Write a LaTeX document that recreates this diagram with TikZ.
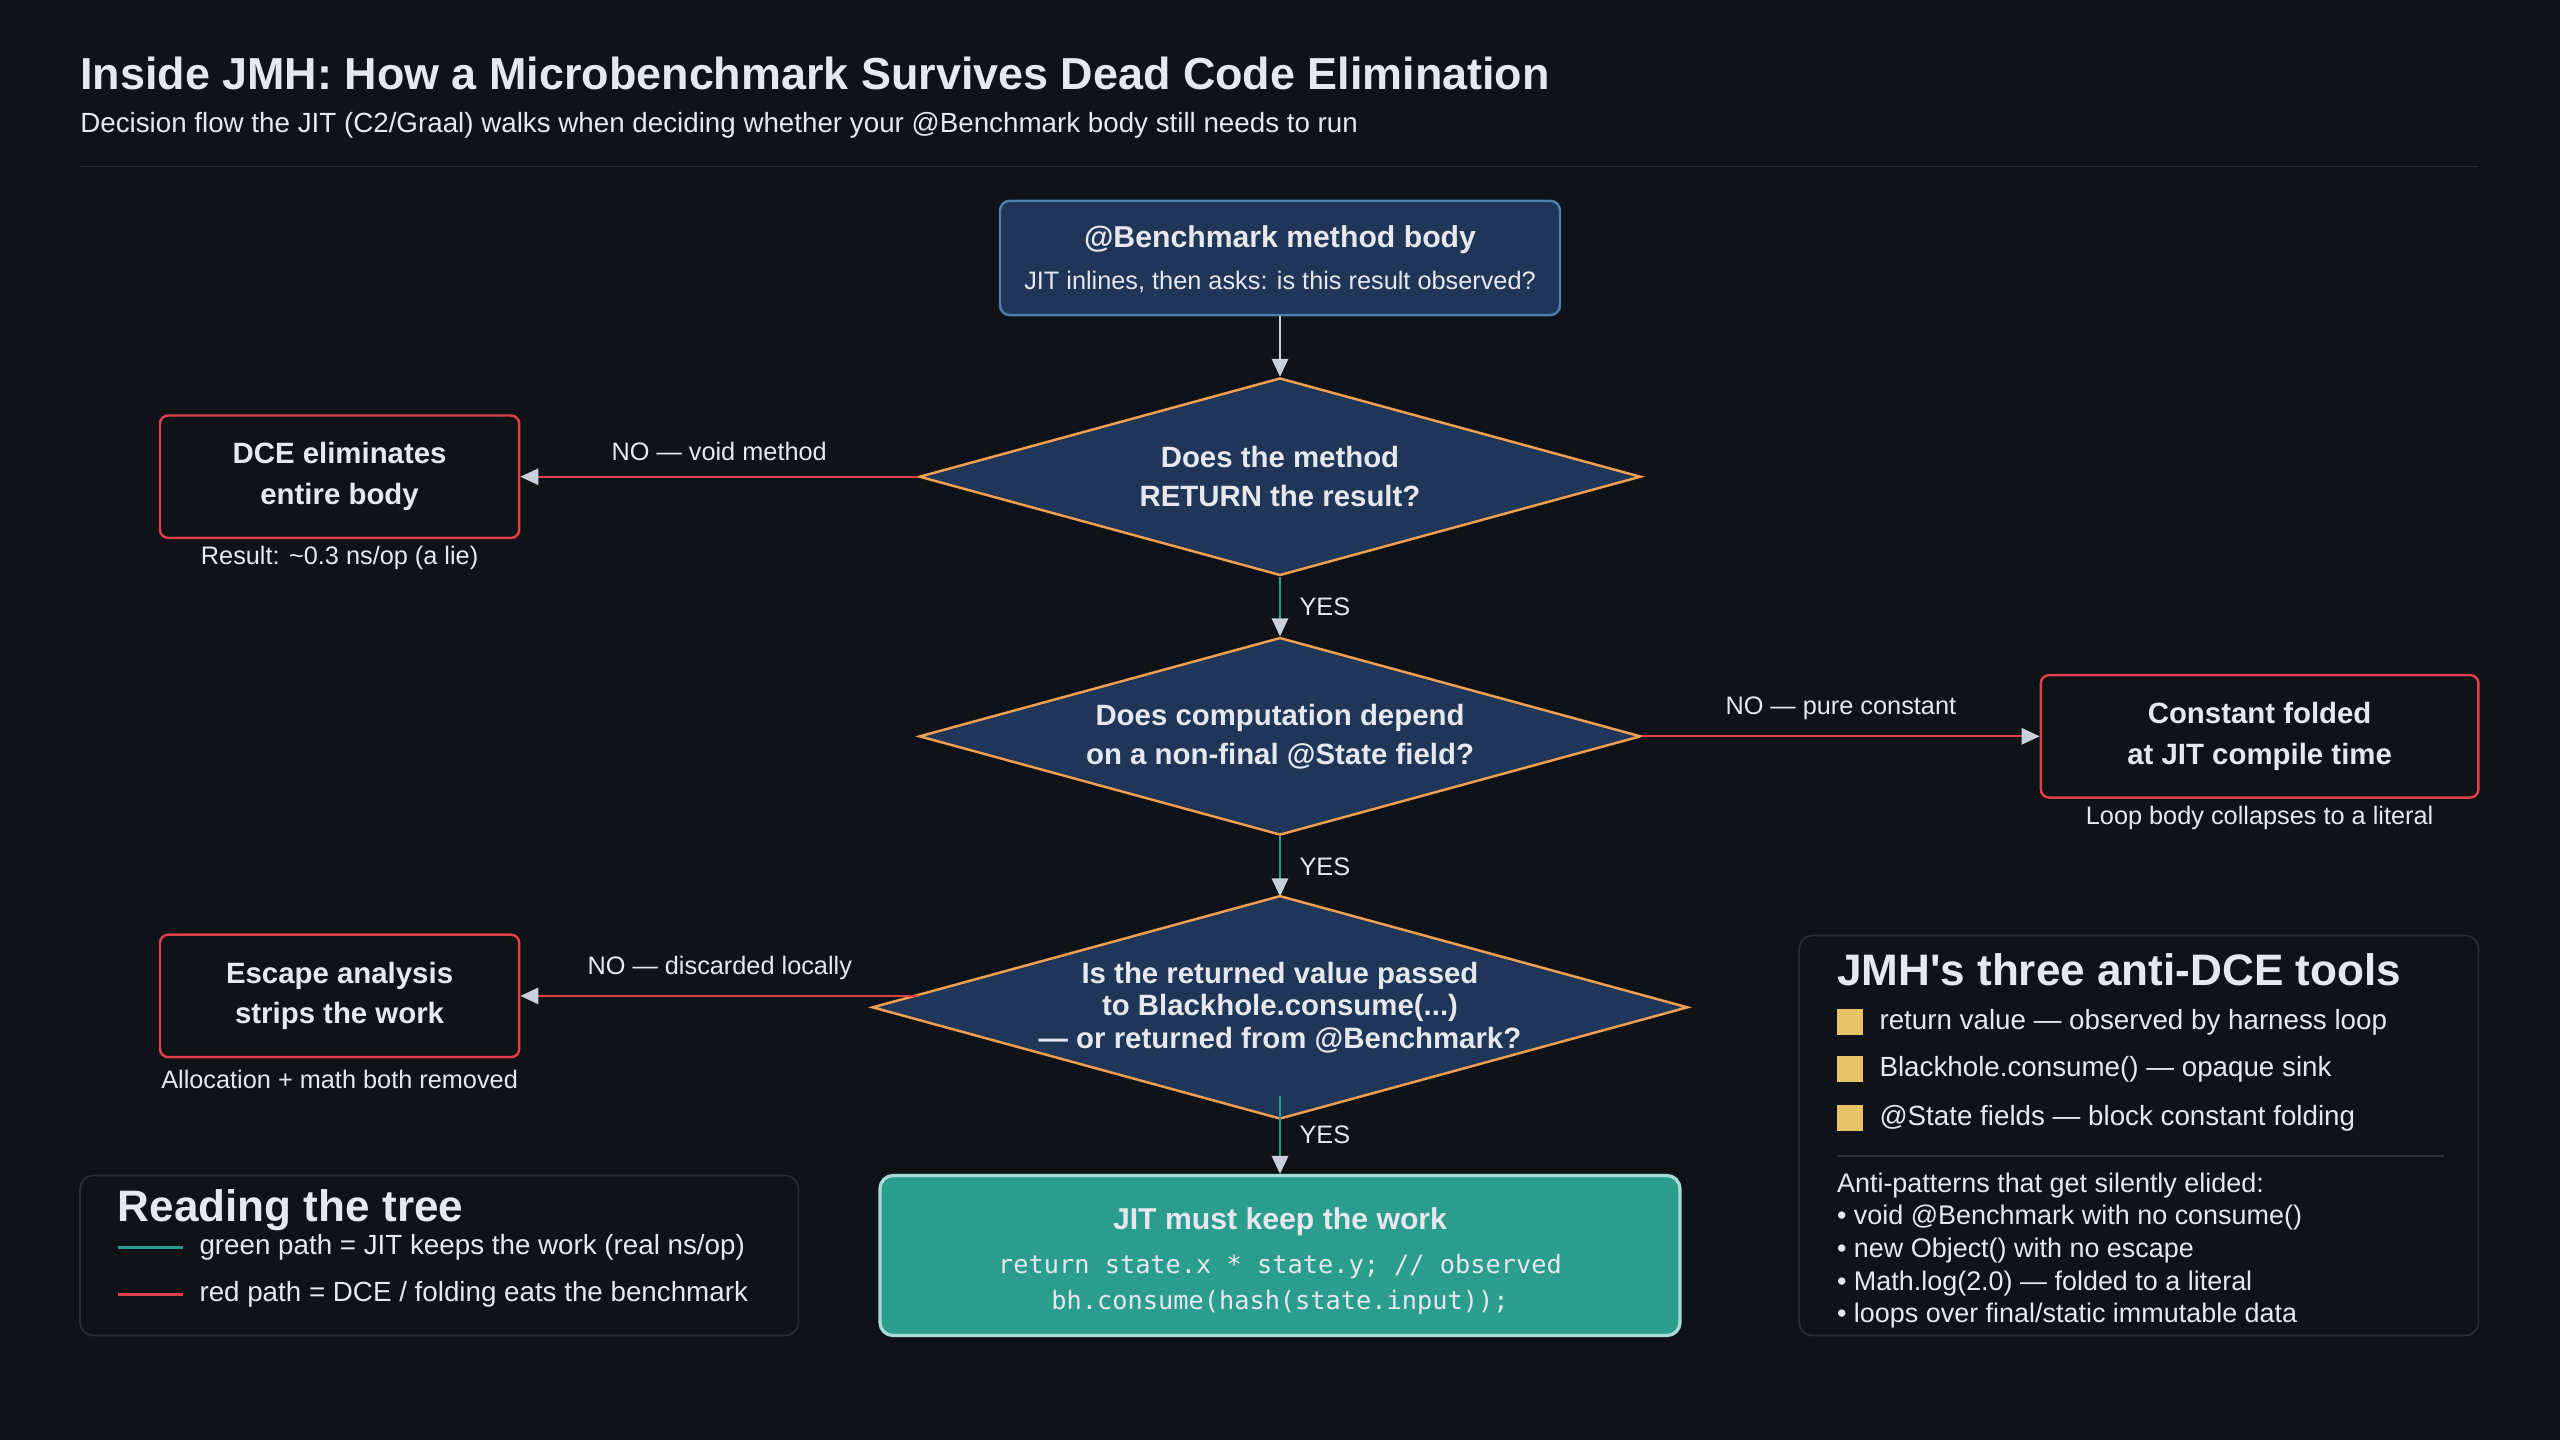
\documentclass[tikz,border=0pt]{standalone}
\usepackage{fontspec}
\setmainfont{Liberation Sans}
\newfontfamily\codefont{DejaVu Sans Mono}
\usetikzlibrary{shapes.geometric,arrows.meta}
\definecolor{bgc}{HTML}{0F1217}
\definecolor{ink}{HTML}{E6E8EE}
\definecolor{navy}{HTML}{1F3658}
\definecolor{navyline}{HTML}{4A80B0}
\definecolor{orng}{HTML}{F0A050}
\definecolor{redl}{HTML}{E0404A}
\definecolor{teal}{HTML}{2A9D8F}
\definecolor{mint}{HTML}{A8DCD9}
\definecolor{gray}{HTML}{C8D0DC}
\definecolor{rule}{HTML}{2A2F36}
\definecolor{gold}{HTML}{E8C468}
\tikzset{
  decision/.style={diamond, aspect=3.65, draw=orng, fill=navy, line width=1.5pt, inner sep=0pt,
    minimum width=442pt, minimum height=121pt, text=ink, align=center,
    font=\fontsize{18}{24}\selectfont\bfseries},
  sink/.style={draw=redl, fill=bgc, line width=1.5pt, rounded corners=5pt,
    minimum width=220pt, minimum height=75pt, text=ink, align=center,
    font=\fontsize{18}{25}\selectfont\bfseries},
  note/.style={text=ink, font=\fontsize{15.5}{18}\selectfont},
  flow/.style={line width=1.3pt, -{Triangle[length=11pt,width=10pt,color=gray]}},
  yes/.style={flow, draw=teal},
  no/.style={flow, draw=redl},
  panel/.style={draw=rule, line width=1pt, rounded corners=8pt}
}
\begin{document}
\begin{tikzpicture}[x=1pt,y=1pt]
  \fill[bgc] (0,0) rectangle (1568,-882);
  \useasboundingbox (0,0) rectangle (1568,-882);

  % heading
  \node[anchor=west, inner sep=0pt, text=ink, font=\fontsize{27.5}{30}\selectfont\bfseries] (title) at (49,-45)
    {Inside JMH: How a Microbenchmark Survives Dead Code Elimination};
  \node[anchor=west, inner sep=0pt, text=ink, font=\fontsize{17}{20}\selectfont] (subtitle) at (49,-77)
    {Decision flow the JIT (C2/Graal) walks when deciding whether your @Benchmark body still needs to run};
  \draw[rule, line width=1pt] (49,-102) -- (1518,-102);

  % flow
  \node[draw=navyline, fill=navy, line width=1.5pt, rounded corners=6pt, minimum width=343pt,
    minimum height=70pt] (body) at (784,-158) {};
  \node[text=ink, font=\fontsize{18.5}{22}\selectfont\bfseries] (bodyt) at (784,-147) {@Benchmark method body};
  \node[text=ink, font=\fontsize{15.5}{18}\selectfont] (bodys) at (784,-173) {JIT inlines, then asks: is this result observed?};

  \node[decision] (ret) at (784,-292) {Does the method\\RETURN the result?};
  \node[decision] (dep) at (784,-451) {Does computation depend\\on a non-final @State field?};
  \node[decision, font=\fontsize{18}{20}\selectfont\bfseries] (pass) at (784,-617)
    {Is the returned value passed\\to Blackhole.consume(...)\\— or returned from @Benchmark?};
  \coordinate (passw) at (563,-610);
  \coordinate (passn) at (784,-549);
  \coordinate (passs) at (784,-671);

  \node[sink] (dce) at (208,-292) {DCE eliminates\\entire body};
  \node[note] (dcec) at (208,-342) {Result: \textasciitilde0.3 ns/op (a lie)};
  \node[sink, minimum width=268pt] (fold) at (1384,-451) {Constant folded\\at JIT compile time};
  \node[note] (foldc) at (1384,-501) {Loop body collapses to a literal};
  \node[sink] (esc) at (208,-610) {Escape analysis\\strips the work};
  \node[note] (escc) at (208,-661) {Allocation + math both removed};

  \node[draw=mint, fill=teal, line width=2pt, rounded corners=8pt, minimum width=490pt,
    minimum height=98pt] (keep) at (784,-769) {};
  \node[text=ink, font=\fontsize{18.5}{22}\selectfont\bfseries] (keept) at (784,-748) {JIT must keep the work};
  \node[text=ink, align=center, font=\codefont\fontsize{15.5}{22}\selectfont] (keepc) at (784,-787)
    {return state.x * state.y; // observed\\bh.consume(hash(state.input));};

  \draw[flow, draw=gray] (body) -- (ret);
  \draw[no] (ret.west) -- node[note, above=6pt] {NO — void method} (dce);
  \draw[yes] (ret.south) -- node[note, right=8pt] {YES} (dep.north);
  \draw[no] (dep.east) -- node[note, above=6pt] {NO — pure constant} (fold);
  \draw[yes] (dep.south) -- node[note, right=8pt] {YES} (passn);
  \draw[no] (passw) -- node[note, above=6pt] {NO — discarded locally} (esc);
  \draw[yes] (passs) -- node[note, right=8pt] {YES} (keep.north);

  % legend
  \draw[panel] (49,-720) rectangle (489,-818);
  \node[anchor=west, inner sep=0pt, text=ink, font=\fontsize{27}{30}\selectfont\bfseries] (legt) at (72,-741) {Reading the tree};
  \coordinate (g1) at (72,-764); \coordinate (g2) at (112,-764);
  \draw[teal, line width=2pt] (g1) -- (g2);
  \node[note, anchor=west, inner sep=0pt, font=\fontsize{17}{20}\selectfont] (legg) at (122,-764) {green path = JIT keeps the work (real ns/op)};
  \coordinate (r1) at (72,-793); \coordinate (r2) at (112,-793);
  \draw[redl, line width=2pt] (r1) -- (r2);
  \node[note, anchor=west, inner sep=0pt, font=\fontsize{17}{20}\selectfont] (legr) at (122,-793) {red path = DCE / folding eats the benchmark};

  % tools
  \draw[panel] (1102,-573) rectangle (1518,-818);
  \node[anchor=west, inner sep=0pt, text=ink, font=\fontsize{27}{30}\selectfont\bfseries] (toolt) at (1125,-594) {JMH\textquotesingle s three anti-DCE tools};
  \foreach \y/\t in {626/{return value — observed by harness loop},
                     655/{Blackhole.consume() — opaque sink},
                     685/{@State fields — block constant folding}} {
    \fill[gold] (1125,-\y+8) rectangle (1141,-\y-8);
    \node[note, anchor=west, inner sep=0pt, font=\fontsize{17}{20}\selectfont] at (1151,-\y) {\t};
  }
  \draw[rule, line width=1pt] (1125,-708) -- (1497,-708);
  \node[note, anchor=north west, align=left, inner sep=0pt, font=\fontsize{16.5}{20}\selectfont] (anti) at (1125,-718)
    {Anti-patterns that get silently elided:\\
     • void @Benchmark with no consume()\\
     • new Object() with no escape\\
     • Math.log(2.0) — folded to a literal\\
     • loops over final/static immutable data};
\end{tikzpicture}
\end{document}
